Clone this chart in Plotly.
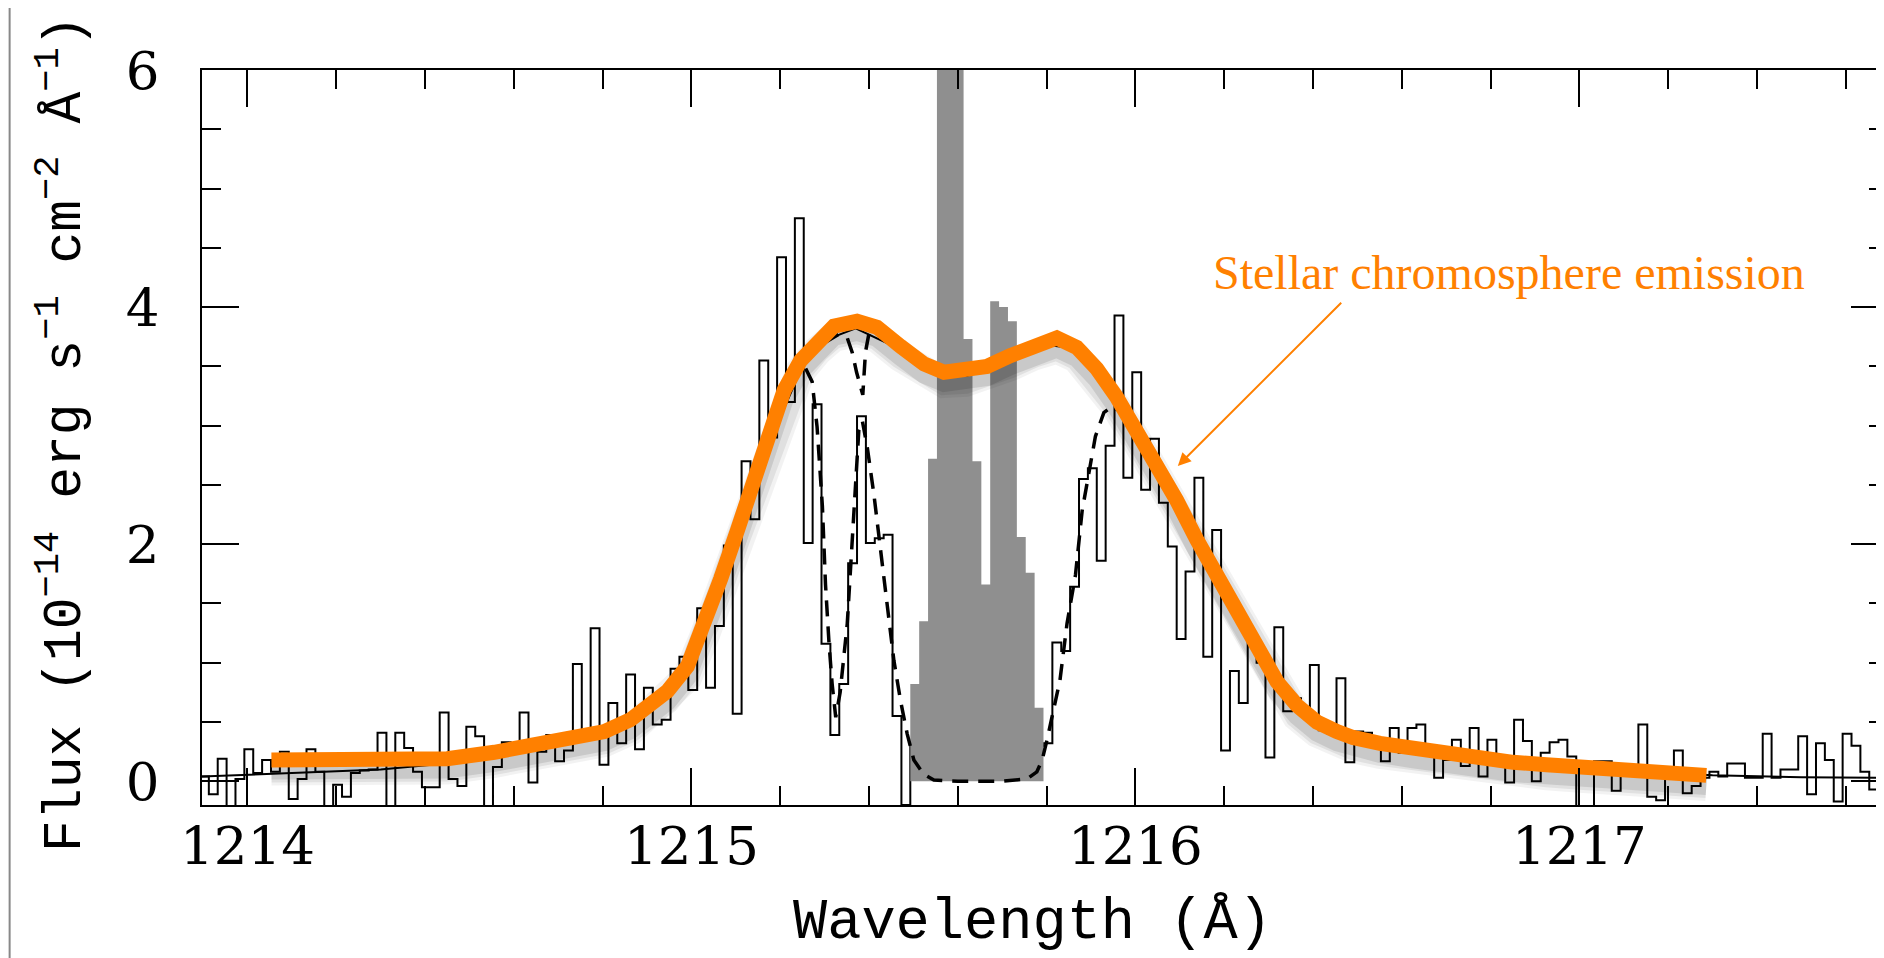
import numpy as np
import plotly.graph_objects as go

# observed spectrum, histogram with 0.02 A bins
wave_start = 1213.893
bin_width = 0.02
flux_obs = [
    0.04, -0.11, 0.19, -0.30, 0.02, 0.27, 0.07, 0.18, 0.08, 0.25,
    -0.15, 0.02, 0.27, 0.08, -0.25, -0.03, -0.13, 0.07, 0.09, 0.10,
    0.41, -0.30, 0.41, 0.28, 0.08, -0.05, -0.05, 0.58, 0.02, -0.04,
    0.46, 0.38, -0.25, 0.12, 0.33, 0.27, 0.58, -0.01, 0.25, 0.39,
    0.17, 0.26, 0.99, 0.42, 1.29, 0.14, 0.66, 0.32, 0.90, 0.27,
    0.79, 0.48, 0.52, 0.95, 1.05, 0.77, 1.46, 0.79, 1.31, 1.99,
    0.57, 2.70, 2.21, 3.55, 2.90, 4.42, 3.20, 4.75, 2.01, 3.18,
    1.16, 0.39, 0.82, 1.84, 3.08, 2.01, 2.05, 2.08, 0.55, -0.20,
    0.30, 0.30, 0.30, 0.30, 0.30, 0.30, 0.30, 0.30, 0.30, 0.30,
    0.30, 0.30, 0.30, 0.30, 0.30, 0.32, 1.17, 1.10, 1.64, 2.55,
    2.64, 1.86, 2.83, 3.93, 2.56, 3.45, 2.46, 2.89, 2.35, 1.98,
    1.20, 1.77, 2.56, 1.05, 2.12, 0.26, 0.93, 0.66, 1.20, 1.00,
    0.20, 1.30, 0.59, 0.70, 0.56, 0.98, 0.43, 0.40, 0.87, 0.16,
    0.42, 0.41, 0.30, 0.17, 0.45, 0.24, 0.45, 0.48, 0.22, 0.03,
    0.18, 0.35, 0.13, 0.45, 0.04, 0.35, 0.18, -0.01, 0.52, 0.34,
    0.00, 0.24, 0.33, 0.35, 0.21, -0.25, -0.25, 0.17, 0.17, -0.08,
    0.06, 0.06, 0.48, -0.13, -0.16, 0.03, 0.26, -0.10, -0.04, 0.03,
    0.08, 0.04, 0.15, 0.15, 0.03, 0.03, 0.40, 0.03, 0.10, 0.10,
    0.38, -0.11, 0.32, 0.18, -0.17, 0.40, 0.30, 0.08, -0.07, 0.24,
]

# gray (geocoronal) histogram, starts at bin 80
gray_first_bin = 80
flux_gray = [0.82, 1.35, 2.72, 8.0, 8.0, 8.0, 3.73, 2.70, 1.66, 4.05, 4.00, 3.88, 2.06, 1.76, 0.62]

# intrinsic stellar profile (solid)
wave_intr = [1213.897, 1214.0, 1214.1, 1214.3, 1214.5, 1214.7, 1214.85, 1214.95, 1215.03, 1215.1,
             1215.18, 1215.25, 1215.3, 1215.37, 1215.45, 1215.55, 1215.62, 1215.7, 1215.8, 1215.85,
             1215.92, 1216.0, 1216.1, 1216.2, 1216.3, 1216.4, 1216.5, 1216.7, 1216.9, 1217.1,
             1217.3, 1217.5, 1217.695]
flux_intr = [0.04, 0.055, 0.07, 0.10, 0.17, 0.30, 0.50, 0.80, 1.30, 2.05,
             2.90, 3.50, 3.72, 3.82, 3.68, 3.45, 3.42, 3.52, 3.68, 3.66,
             3.42, 2.95, 2.30, 1.62, 1.00, 0.55, 0.35, 0.22, 0.14, 0.09,
             0.05, 0.035, 0.03]

# ISM-absorbed profile (dashed), where it leaves the intrinsic one
wave_abs = [1215.22, 1215.255, 1215.272, 1215.283, 1215.295, 1215.302, 1215.31, 1215.317, 1215.325, 1215.335,
            1215.351, 1215.366, 1215.377, 1215.385, 1215.396, 1215.411, 1215.426, 1215.441, 1215.456, 1215.471,
            1215.486, 1215.501, 1215.523, 1215.546, 1215.60, 1215.70, 1215.756, 1215.778, 1215.79, 1215.801,
            1215.815, 1215.83, 1215.846, 1215.865, 1215.88, 1215.895, 1215.91, 1215.929, 1215.947, 1215.962,
            1215.98, 1216.0]
flux_abs = [3.35, 3.50, 3.37, 2.99, 2.32, 1.66, 1.16, 0.82, 0.54, 0.75,
            1.33, 2.32, 2.96, 3.04, 2.82, 2.42, 1.95, 1.45, 1.02, 0.68,
            0.40, 0.18, 0.06, 0.01, 0.0, 0.0, 0.02, 0.08, 0.18, 0.35,
            0.60, 0.85, 1.33, 1.74, 2.28, 2.58, 2.91, 3.11, 3.16, 3.13,
            3.05, 2.95]

# second dashed profile near the blue peak (narrow notch)
wave_notch = [1215.30, 1215.332, 1215.351, 1215.362, 1215.372, 1215.386, 1215.392, 1215.403, 1215.42]
flux_notch = [3.70, 3.77, 3.74, 3.62, 3.45, 3.26, 3.62, 3.84, 3.80]

# hand-drawn orange highlight
wave_chrom = [1214.054, 1214.20, 1214.37, 1214.45, 1214.556, 1214.691, 1214.804, 1214.863, 1214.901, 1214.946,
              1214.991, 1215.029, 1215.066, 1215.103, 1215.141, 1215.178, 1215.209, 1215.246, 1215.284, 1215.321,
              1215.373, 1215.418, 1215.471, 1215.524, 1215.569, 1215.617, 1215.666, 1215.718, 1215.771, 1215.823,
              1215.868, 1215.913, 1215.958, 1216.003, 1216.048, 1216.093, 1216.138, 1216.183, 1216.228, 1216.274,
              1216.319, 1216.364, 1216.409, 1216.454, 1216.49, 1216.551, 1216.626, 1216.701, 1216.776, 1216.851,
              1216.926, 1217.001, 1217.076, 1217.151, 1217.286]
flux_chrom = [0.18, 0.18, 0.165, 0.19, 0.245, 0.33, 0.42, 0.52, 0.64, 0.76,
              0.97, 1.31, 1.71, 2.11, 2.51, 2.95, 3.30, 3.55, 3.72, 3.84,
              3.88, 3.83, 3.67, 3.52, 3.45, 3.46, 3.50, 3.59, 3.68, 3.74,
              3.66, 3.48, 3.24, 2.96, 2.67, 2.37, 2.04, 1.74, 1.42, 1.12,
              0.84, 0.64, 0.50, 0.42, 0.37, 0.32, 0.275, 0.225, 0.19, 0.16,
              0.14, 0.12, 0.10, 0.08, 0.05]

orange = '#FF8000'
gray = '#8f8f8f'

n = len(flux_obs)
edges = wave_start + bin_width * np.arange(n + 1)
g_edges = wave_start + bin_width * np.arange(gray_first_bin, gray_first_bin + len(flux_gray) + 1)

fig = go.Figure()

fig.add_trace(go.Scatter(
    x=edges, y=flux_obs + [flux_obs[-1]], mode='lines',
    line=dict(color='black', width=2, shape='hv'), hoverinfo='skip'
))
fig.add_trace(go.Scatter(
    x=g_edges, y=flux_gray + [flux_gray[-1]], mode='lines',
    line=dict(color=gray, width=0, shape='hv'),
    fill='tozeroy', fillcolor=gray, hoverinfo='skip'
))
fig.add_trace(go.Scatter(
    x=wave_intr, y=flux_intr, mode='lines',
    line=dict(color='black', width=2), hoverinfo='skip'
))
for wx, fy in [(wave_abs, flux_abs), (wave_notch, flux_notch)]:
    fig.add_trace(go.Scatter(
        x=wx, y=fy, mode='lines',
        line=dict(color='black', width=3.5, dash='16px,10px'), hoverinfo='skip'
    ))

# soft shadow under the orange stroke, shifted down a little
chrom_shadow = np.array(flux_chrom) - 0.09
for w, a in [(30, 0.05), (24, 0.07), (18, 0.10)]:
    fig.add_trace(go.Scatter(
        x=wave_chrom, y=chrom_shadow, mode='lines',
        line=dict(color=f'rgba(0,0,0,{a})', width=w), hoverinfo='skip'
    ))

fig.add_trace(go.Scatter(
    x=wave_chrom, y=flux_chrom, mode='lines',
    line=dict(color=orange, width=15), hoverinfo='skip'
))

axis_common = dict(
    showline=True, linecolor='black', linewidth=2, mirror='ticks',
    ticks='inside', ticklen=37, tickwidth=2, tickcolor='black',
    showgrid=False, zeroline=False,
    tickfont=dict(family='DejaVu Serif', size=53, color='black'),
)

fig.update_layout(
    width=1884, height=958,
    margin=dict(l=194, r=2, t=62, b=161),
    paper_bgcolor='white', plot_bgcolor='white',
    showlegend=False,
    xaxis=dict(
        range=[1213.8976, 1217.6952], tickvals=[1214, 1215, 1216, 1217],
        minor=dict(dtick=0.2, tick0=1214, ticks='inside', ticklen=19, tickwidth=2, tickcolor='black'),
        ticklabelstandoff=-7, **axis_common
    ),
    yaxis=dict(
        range=[-0.2, 6.0], tickvals=[0, 2, 4, 6],
        minor=dict(dtick=0.5, tick0=0, ticks='inside', ticklen=19, tickwidth=2, tickcolor='black'),
        ticklabelstandoff=30, **axis_common
    ),
    annotations=[
        dict(text='Wavelength (Å)', xref='paper', yref='paper', x=0.4923, y=-0.16,
             xanchor='center', yanchor='middle', showarrow=False,
             font=dict(family='Liberation Mono', size=57, color='black')),
        dict(text='Flux (10<sup>−14</sup> erg s<sup>−1</sup> cm<sup>−2</sup> Å<sup>−1</sup>)',
             xref='paper', yref='paper', x=-0.083, y=0.505, textangle=-90,
             xanchor='center', yanchor='middle', showarrow=False,
             font=dict(family='Liberation Mono', size=53, color='black')),
        dict(text='Stellar chromosphere emission', xref='x', yref='y', x=1216.8425, y=4.29,
             xanchor='center', yanchor='middle', showarrow=False,
             font=dict(family='Liberation Serif', size=48, color=orange)),
        dict(text='', xref='x', yref='y', x=1216.0956, y=2.66,
             axref='x', ayref='y', ax=1216.467, ay=4.05,
             showarrow=True, arrowhead=2, arrowsize=1.3, arrowwidth=2, arrowcolor=orange),
    ],
    shapes=[
        dict(type='line', xref='paper', yref='paper', x0=-0.1141, x1=-0.1141, y0=-0.22, y1=1.085,
             line=dict(color='#888888', width=2)),
    ],
)

fig.write_html("out.html")
